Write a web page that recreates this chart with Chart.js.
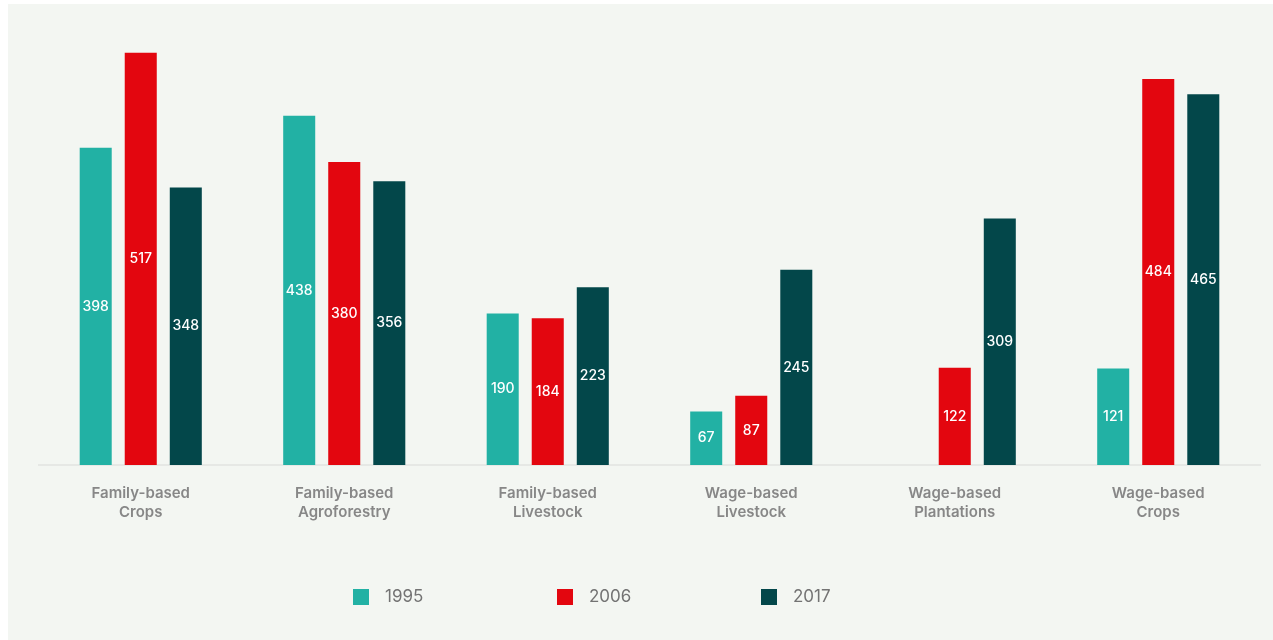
<!DOCTYPE html>
<html>
<head>
<meta charset="utf-8">
<script src="https://cdn.jsdelivr.net/npm/chart.js@4.4.1/dist/chart.umd.min.js"></script>
<style>
  html, body { margin: 0; padding: 0; background: #ffffff; }
  #wrap { position: absolute; left: 0; top: 0; width: 1273px; height: 640px; }
</style>
</head>
<body>
<div id="wrap"><canvas id="chart" width="1273" height="640"></canvas></div>
<script>
// Categories (two-line tick labels)
const categories = [
  ['Family-based', 'Crops'],
  ['Family-based', 'Agroforestry'],
  ['Family-based', 'Livestock'],
  ['Wage-based', 'Livestock'],
  ['Wage-based', 'Plantations'],
  ['Wage-based', 'Crops']
];

// Series per survey year
const years = ['1995', '2006', '2017'];
const values1995 = [398, 438, 190, 67, null, 121];
const values2006 = [517, 380, 184, 87, 122, 484];
const values2017 = [348, 356, 223, 245, 309, 465];

const colors = ['#22b1a4', '#e3060f', '#03474a'];
const FONT = 'Inter, "Open Sans", sans-serif';

// Page background panel
const panelPlugin = {
  id: 'panel',
  beforeDraw(chart) {
    const ctx = chart.ctx;
    ctx.save();
    ctx.fillStyle = '#f3f6f2';
    ctx.fillRect(8, 4, chart.width - 8, chart.height - 4);
    ctx.restore();
  }
};

// Value labels centred inside each bar
const barValuePlugin = {
  id: 'barValues',
  afterDatasetsDraw(chart) {
    const ctx = chart.ctx;
    ctx.save();
    ctx.font = '500 14px ' + FONT;
    ctx.fillStyle = '#ffffff';
    ctx.textAlign = 'center';
    ctx.textBaseline = 'middle';
    chart.data.datasets.forEach((ds, i) => {
      const meta = chart.getDatasetMeta(i);
      meta.data.forEach((bar, j) => {
        const v = ds.data[j];
        if (v === null || v === undefined) return;
        ctx.fillText(String(v), bar.x, (bar.y + bar.base) / 2);
      });
    });
    ctx.restore();
  }
};

// Legend row with wide spacing between items
const legendRowPlugin = {
  id: 'legendRow',
  afterDraw(chart) {
    const ctx = chart.ctx;
    const startX = 353, step = 204, y = 597, box = 16;
    ctx.save();
    ctx.font = '400 17px ' + FONT;
    ctx.textBaseline = 'middle';
    ctx.textAlign = 'left';
    chart.data.datasets.forEach((ds, i) => {
      const x = startX + i * step;
      ctx.fillStyle = ds.backgroundColor;
      ctx.fillRect(x, y - box / 2, box, box);
      ctx.fillStyle = '#737373';
      ctx.fillText(ds.label, x + 32, y);
    });
    ctx.restore();
  }
};

new Chart(document.getElementById('chart'), {
  type: 'bar',
  data: {
    labels: categories,
    datasets: [
      { label: years[0], data: values1995, backgroundColor: colors[0] },
      { label: years[1], data: values2006, backgroundColor: colors[1] },
      { label: years[2], data: values2017, backgroundColor: colors[2] }
    ]
  },
  options: {
    responsive: false,
    animation: false,
    devicePixelRatio: 1,
    layout: { padding: { top: 40, left: 39, right: 13, bottom: 0 } },
    datasets: {
      bar: { categoryPercentage: 0.664, barPercentage: 0.711 }
    },
    plugins: {
      legend: { display: false },
      tooltip: { enabled: false }
    },
    scales: {
      x: {
        grid: { display: false, drawTicks: false },
        border: { display: true, color: '#e6e8e5', width: 2 },
        ticks: {
          padding: 19,
          color: '#878787',
          font: { family: FONT, size: 15, weight: '600', lineHeight: 1.27 }
        },
        afterFit(scale) { scale.height = 175; }
      },
      y: {
        display: false,
        min: 0,
        max: 533
      }
    }
  },
  plugins: [panelPlugin, barValuePlugin, legendRowPlugin]
});
</script>
</body>
</html>
